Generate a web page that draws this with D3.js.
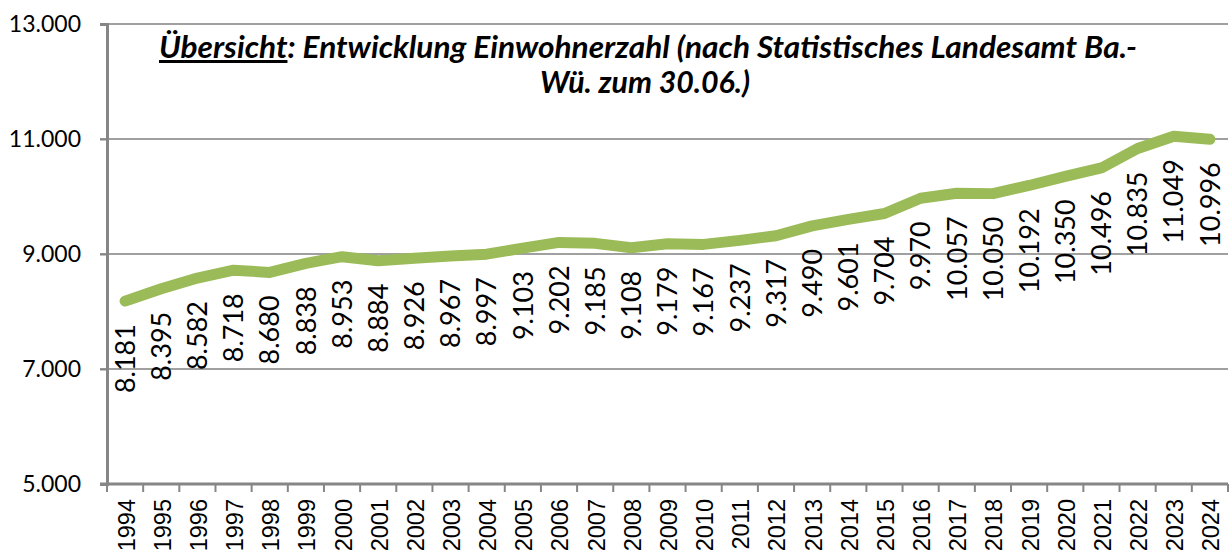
<!DOCTYPE html>
<html>
<head>
<meta charset="utf-8">
<script src="https://cdn.jsdelivr.net/npm/d3@7"></script>
<style>
  body { margin: 0; background: #fff; }
  svg { display: block; font-family: Lato, "Open Sans", sans-serif; }
</style>
</head>
<body>
<div id="chart"></div>
<script>
var years = ['1994','1995','1996','1997','1998','1999','2000','2001','2002','2003','2004',
  '2005','2006','2007','2008','2009','2010','2011','2012','2013','2014','2015','2016',
  '2017','2018','2019','2020','2021','2022','2023','2024'];
var einwohner = [8181, 8395, 8582, 8718, 8680, 8838, 8953, 8884, 8926, 8967, 8997,
  9103, 9202, 9185, 9108, 9179, 9167, 9237, 9317, 9490, 9601, 9704, 9970,
  10057, 10050, 10192, 10350, 10496, 10835, 11049, 10996];
var yTicks = [5000, 7000, 9000, 11000, 13000];

var width = 1230, height = 554;
var margin = {top: 24, right: 2, bottom: 70, left: 107};

var svg = d3.select('#chart').append('svg')
  .attr('width', width)
  .attr('height', height);

var x = d3.scaleBand()
  .domain(years)
  .range([margin.left, width - margin.right]);

var y = d3.scaleLinear()
  .domain([5000, 13000])
  .range([height - margin.bottom, margin.top]);

var fmt = d3.formatLocale({decimal: ',', thousands: '.', grouping: [3], currency: ['', '€']}).format(',');

// gridlines
svg.append('g')
  .selectAll('line')
  .data(yTicks.slice(1))
  .enter().append('line')
  .attr('x1', margin.left - 7)
  .attr('x2', width - margin.right)
  .attr('y1', function(d) { return y(d); })
  .attr('y2', function(d) { return y(d); })
  .attr('stroke', '#a0a0a0')
  .attr('stroke-width', 2);

// y axis
var yAxis = d3.axisLeft(y)
  .tickValues(yTicks)
  .tickSize(7)
  .tickPadding(19)
  .tickFormat(fmt);

var gy = svg.append('g')
  .attr('transform', 'translate(' + margin.left + ',0)')
  .call(yAxis);
gy.select('.domain').attr('stroke', '#868686').attr('stroke-width', 3);
gy.selectAll('.tick line').attr('stroke', '#868686').attr('stroke-width', 2);
gy.selectAll('.tick text')
  .attr('font-family', 'Lato, sans-serif')
  .attr('font-size', 23)
  .attr('fill', '#000');

// x axis
var gx = svg.append('g')
  .attr('transform', 'translate(0,' + y(5000) + ')');
gx.append('line')
  .attr('x1', margin.left - 7)
  .attr('x2', width - margin.right)
  .attr('stroke', '#868686')
  .attr('stroke-width', 3);
var bounds = years.map(function(d) { return x(d); }).concat([x(years[years.length - 1]) + x.bandwidth()]);
gx.selectAll('line.tick')
  .data(bounds)
  .enter().append('line')
  .attr('class', 'tick')
  .attr('x1', function(d) { return d; })
  .attr('x2', function(d) { return d; })
  .attr('y1', 0)
  .attr('y2', 8)
  .attr('stroke', '#868686')
  .attr('stroke-width', 2);
gx.selectAll('text')
  .data(years)
  .enter().append('text')
  .attr('transform', function(d) {
    return 'translate(' + (x(d) + x.bandwidth() / 2 + 1) + ',15) rotate(-90)';
  })
  .attr('text-anchor', 'end')
  .attr('dy', '0.36em')
  .attr('font-family', '"Liberation Sans", Arial, sans-serif')
  .attr('font-size', 23.5)
  .text(function(d) { return d; });

// line
var data = years.map(function(d, i) { return {year: d, value: einwohner[i]}; });

var line = d3.line()
  .x(function(d) { return x(d.year) + x.bandwidth() / 2; })
  .y(function(d) { return y(d.value); });

svg.append('path')
  .datum(data)
  .attr('d', line)
  .attr('fill', 'none')
  .attr('stroke', '#9bbb59')
  .attr('stroke-width', 11)
  .attr('stroke-linecap', 'round')
  .attr('stroke-linejoin', 'round');

// data labels
svg.append('g')
  .selectAll('text')
  .data(data)
  .enter().append('text')
  .attr('transform', function(d) {
    return 'translate(' + (x(d.year) + x.bandwidth() / 2) + ',' + (y(d.value) + 23) + ') rotate(-90)';
  })
  .attr('text-anchor', 'end')
  .attr('dy', '0.36em')
  .attr('font-size', 27)
  .text(function(d) { return fmt(d.value); });

// title
var title = svg.append('text')
  .attr('x', 648)
  .attr('y', 58)
  .attr('text-anchor', 'middle')
  .attr('font-size', 30)
  .attr('font-weight', 'bold')
  .attr('font-style', 'italic')
  .attr('textLength', 978)
  .attr('lengthAdjust', 'spacingAndGlyphs');
title.append('tspan').attr('text-decoration', 'underline').text('Übersicht');
title.append('tspan').text(': Entwicklung Einwohnerzahl (nach Statistisches Landesamt Ba.-');

svg.append('text')
  .attr('x', 645)
  .attr('y', 93)
  .attr('text-anchor', 'middle')
  .attr('font-size', 30)
  .attr('font-weight', 'bold')
  .attr('font-style', 'italic')
  .attr('textLength', 210)
  .attr('lengthAdjust', 'spacingAndGlyphs')
  .text('Wü. zum 30.06.)');
</script>
</body>
</html>
